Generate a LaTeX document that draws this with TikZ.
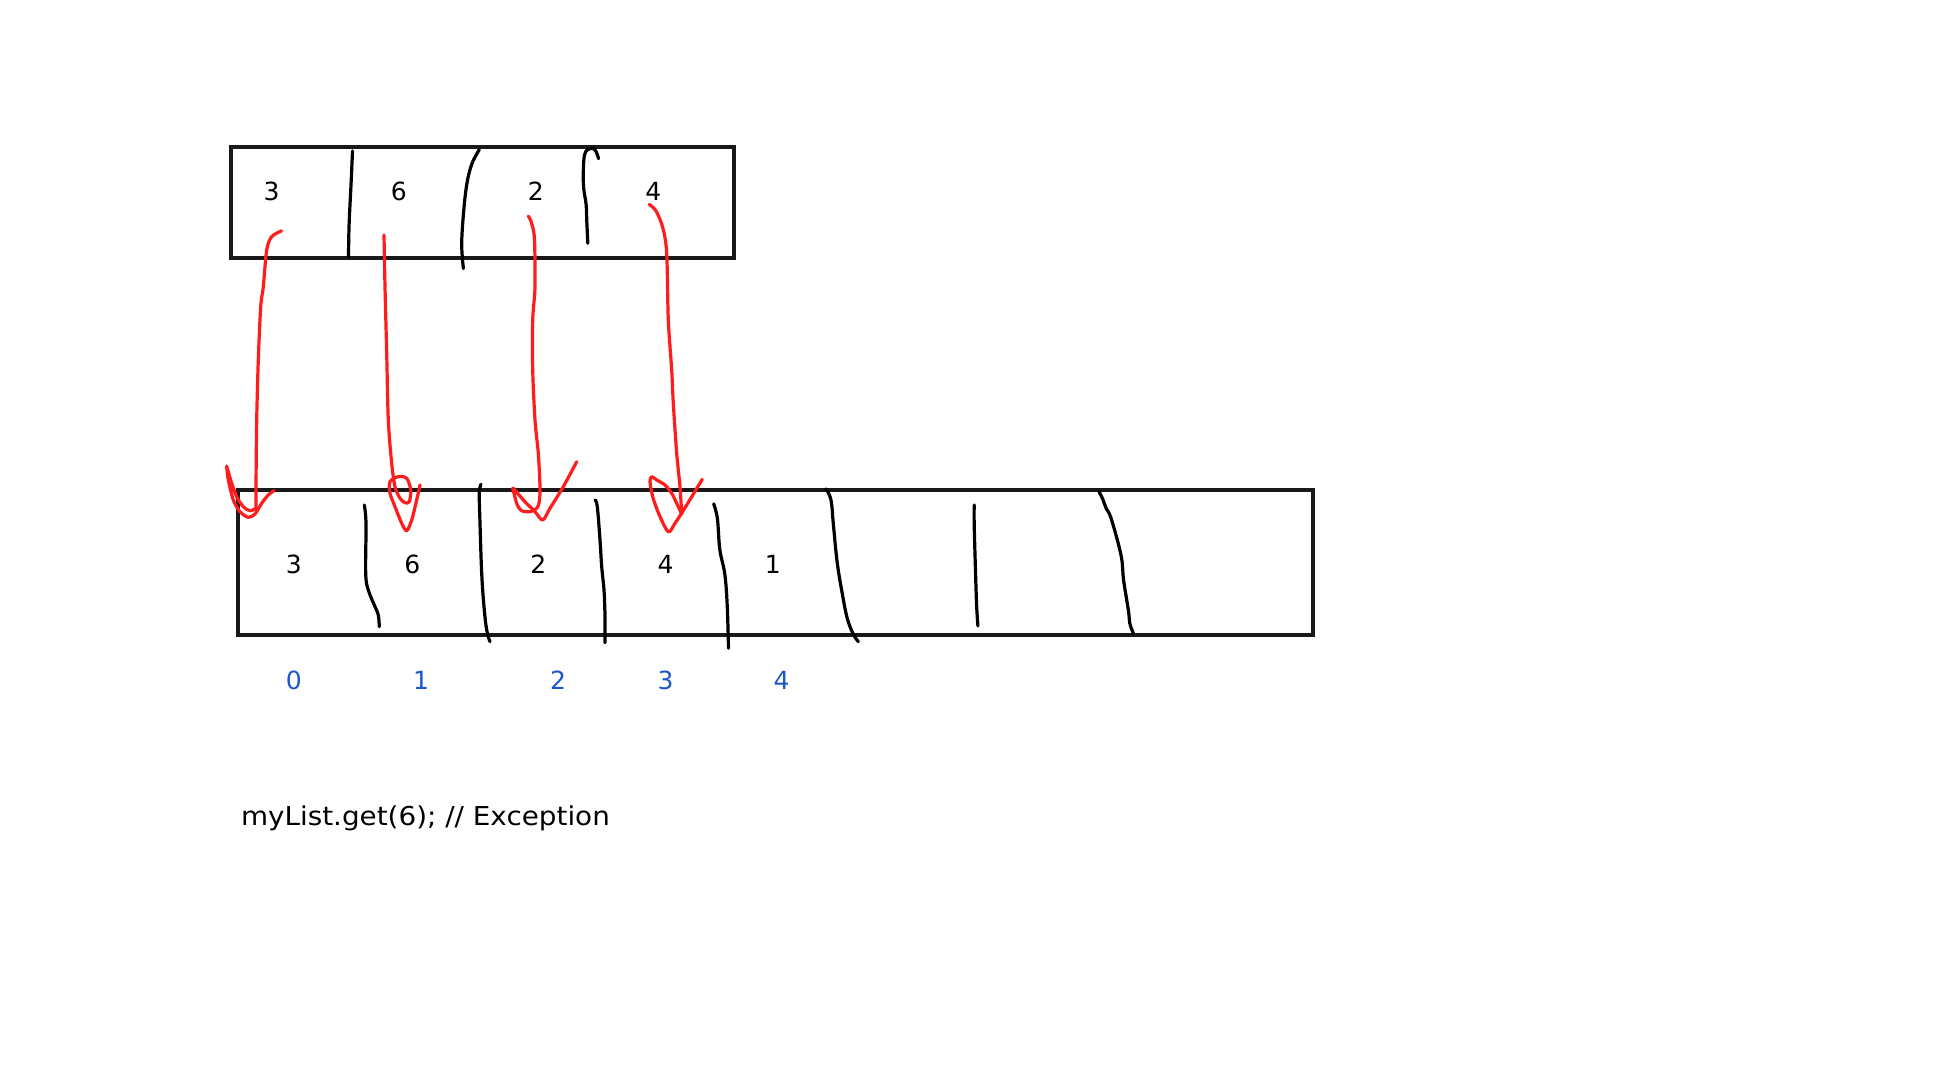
\documentclass[tikz,border=0pt]{standalone}
\usepackage{fontspec}
\setmainfont{DejaVu Sans}
\newfontfamily\codefont[FakeStretch=1.07]{DejaVu Sans}
\definecolor{inkred}{RGB}{255,28,28}
\definecolor{idxblue}{RGB}{28,86,204}
\tikzset{
  boxline/.style={draw=black!90, line width=3.2pt},
  pen/.style={draw=black, line width=3.2pt, line cap=round, line join=round},
  redpen/.style={draw=inkred, line width=3.2pt, line cap=round, line join=round},
  digit/.style={font=\fontsize{25}{30}\selectfont, inner sep=0pt, text=black},
  idx/.style={font=\fontsize{25}{30}\selectfont, inner sep=0pt, text=idxblue},
  codetext/.style={font=\codefont\fontsize{26}{31}\selectfont, inner sep=0pt, anchor=west}
}
\begin{document}
\begin{tikzpicture}[x=1pt,y=-1pt]
\useasboundingbox[fill=white] (0,0) rectangle (1936,1089);

% boxes
\draw[boxline] (231,147) rectangle (734,258);
\draw[boxline] (238,490) rectangle (1313,635);

% top dividers
\draw[pen] plot[smooth,tension=0.6] coordinates {(352.5,151) (351.2,180.7) (349.1,224.7) (348.5,256.8)};
\draw[pen] plot[smooth,tension=0.6] coordinates {(479.3,149.6) (471.9,163.8) (466.8,184.1) (463.4,214.5) (461.7,244.9) (463.4,268.6)};
\draw[pen] plot[smooth,tension=0.6] coordinates {(598.6,158.7) (595.3,150.3) (590.2,148.6) (584.4,155.4) (583.4,184.1) (586.1,204.4) (586.8,221.3) (587.8,243.3)};

% bottom dividers
\draw[pen] plot[smooth,tension=0.6] coordinates {(364.3,505) (366,523.3) (365.7,573.3) (368.3,590) (375,606.7) (378.3,615) (379.3,626.7)};
\draw[pen] plot[smooth,tension=0.6] coordinates {(481,484.3) (479.3,493.3) (480,523.3) (481.7,573.3) (484,606.7) (486.7,630) (490,641.7)};
\draw[pen] plot[smooth,tension=0.6] coordinates {(595,500) (597.3,506.7) (600,540) (601.7,566.7) (604,590) (605,616.7) (605,642.7)};
\draw[pen] plot[smooth,tension=0.6] coordinates {(713.7,503.8) (717.4,518.6) (719.8,549.4) (724.8,574.1) (727.2,605) (728.5,648.2)};
\draw[pen] plot[smooth,tension=0.6] coordinates {(826,488.9) (831,500) (833.4,524.7) (837.1,561.8) (842.1,592.7) (847,617.4) (852.7,633) (858.3,641.7)};
\draw[pen] plot[smooth,tension=0.6] coordinates {(974.2,505) (974.2,524.7) (975.4,568) (976.6,605) (977.9,626)};
\draw[pen] plot[smooth,tension=0.6] coordinates {(1098.9,491.4) (1102.6,498.8) (1106.3,508.7) (1111.2,518.6) (1121.1,555.6) (1123.6,580.3) (1128.5,611.2) (1129.8,623.5) (1133.4,633.4)};

% top values
\node[digit] (t0) at (271.6,191.4) {3};
\node[digit] (t1) at (398.8,191.4) {6};
\node[digit] (t2) at (535.9,191.4) {2};
\node[digit] (t3) at (653.2,191.4) {4};

% bottom values
\node[digit] (b0) at (293.9,564.3) {3};
\node[digit] (b1) at (412.4,564.3) {6};
\node[digit] (b2) at (538.3,564.3) {2};
\node[digit] (b3) at (665.5,564.3) {4};
\node[digit] (b4) at (772.9,564.3) {1};

% indices
\node[idx] (i0) at (293.9,680.3) {0};
\node[idx] (i1) at (421.0,680.3) {1};
\node[idx] (i2) at (558.1,680.3) {2};
\node[idx] (i3) at (665.5,680.3) {3};
\node[idx] (i4) at (781.6,680.3) {4};

% code line
\node[codetext] (code) at (240.8,818.5) {myList.get(6); // Exception};

% red arrows (hand drawn)
\draw[redpen] plot[smooth,tension=0.5] coordinates {(281.5,230.9) (271.7,236.7) (266.7,250) (263.3,286.7) (260.7,306.7) (258.3,360) (256.7,420) (256,486.7) (256,508.3)};
\draw[redpen] plot[smooth,tension=0.5] coordinates {(256,508.3) (250,510.7) (243.3,506.7) (236.7,496.7) (231.7,483.3) (227.3,468.3) (226.7,466.7) (228.3,480) (233.3,500) (240,511.7) (248.3,517.3) (255,514) (261.7,503.3) (268.3,495) (274,490.7)};

\draw[redpen] plot[smooth,tension=0.5] coordinates {(384,235) (385,286.7) (386.7,353.3) (388.3,420) (391.7,463.3) (395,486.7) (400,498.3) (405,502.7) (409.3,501.7) (410.7,490) (406.7,478.3) (398.3,476.7) (390,481.7) (390,493.3) (395,506.7) (401.7,523.3) (406.7,530.7) (411.7,520) (416.7,500) (420,485)};

\draw[redpen] plot[smooth,tension=0.5] coordinates {(528.3,216.2) (531,221.3) (534.4,238.2) (535,286.7) (532.7,320) (532.7,370) (535,420) (538.3,453.3) (540,486.7) (539.3,501.7) (536.7,508.3) (530,511.7) (521.7,510.7) (517.3,505) (514,493.3) (513.3,488.3) (523.3,500) (535,511.7) (542.7,520) (550,508.3) (563.3,486.7) (576.7,461.7)};

\draw[redpen] plot[smooth,tension=0.5] coordinates {(649.3,204.4) (656.1,211.1) (662.9,228) (666.7,253.3) (668.3,320) (671.7,370) (673.3,403.3) (676.7,453.3) (680,486.7) (681.7,514)};
\draw[redpen] plot[smooth,tension=0.5] coordinates {(681.7,514) (676.7,503.3) (671.7,493.3) (665,485) (656.7,480) (651.7,476.7) (650,481.7) (652.7,496.7) (659.3,515) (668.3,531.7) (675,523.3) (686.7,505) (702.3,479.3)};

\end{tikzpicture}
\end{document}
